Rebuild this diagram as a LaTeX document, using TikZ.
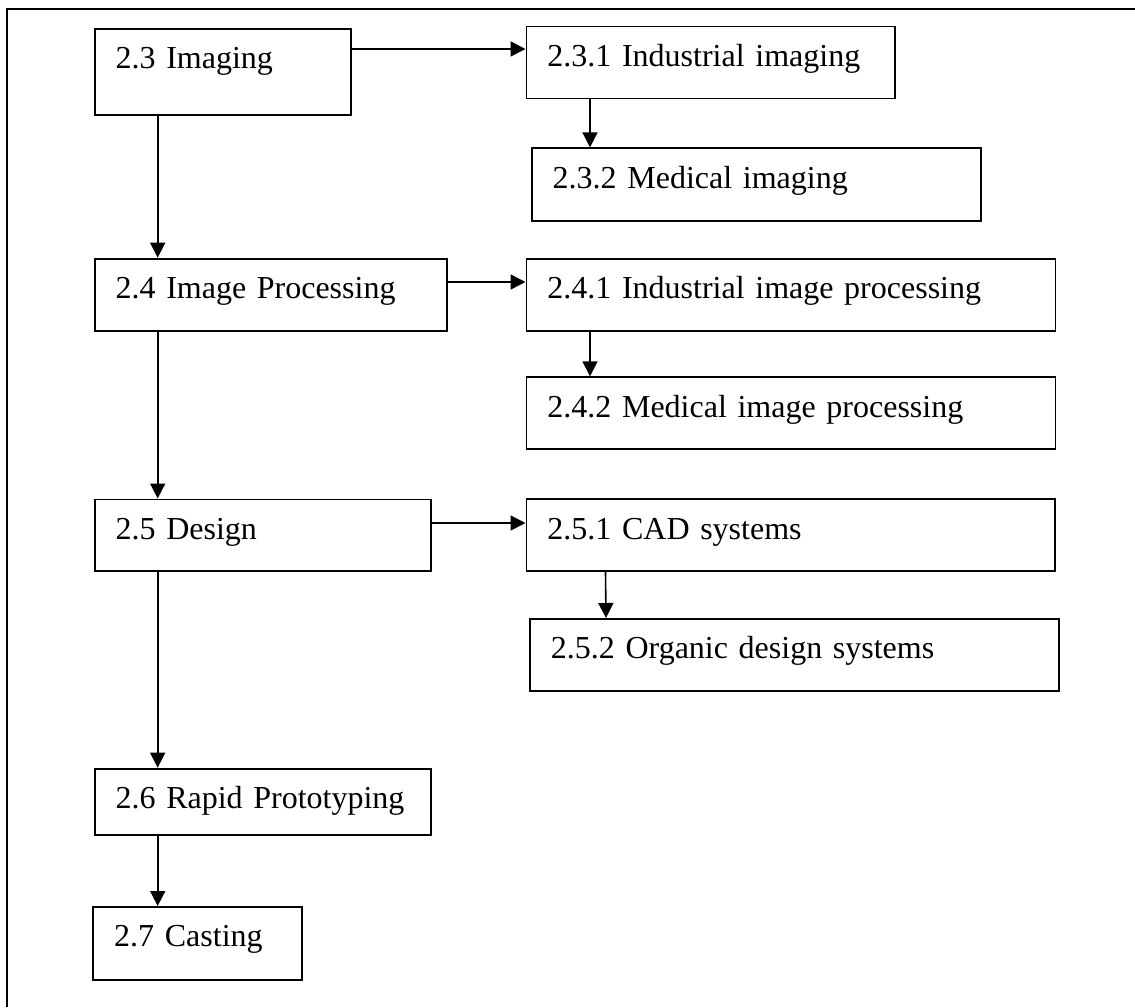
\documentclass[tikz,border=0pt]{standalone}
\usepackage{fontspec}
\setmainfont{Liberation Serif}
\usepackage{tikz}
\usetikzlibrary{arrows.meta, positioning}
\tikzstyle{topic} = [rectangle, draw=black, line width=1.8pt, anchor=north west, align=left, inner xsep=21pt, inner ysep=0pt, text height=40pt, font=\fontsize{32}{38}\selectfont]
\tikzstyle{arrow} = [line width=1.6pt,->,>={Triangle[length=15pt,width=15pt]}]

\begin{document}
\begin{tikzpicture}[x=1pt, y=-1pt]
				\useasboundingbox (0,0) rectangle (1135,1007);
				
				% Frame (top and left only)
				\draw [line width=2pt] (6.5,1007) -- (6.5,9) -- (1135,9);
				
				% Nodes for main chapters
				\node (img) [topic, text width=214pt, text depth=46.3pt] at (93.7,27.7) {2.3 Imaging};
				\node (proc) [topic, text width=310.3pt, text depth=32.6pt] at (93.7,257.7) {2.4 Image Processing};
				\node (des) [topic, text width=294.3pt, text depth=31.5pt] at (93.7,498.5) {2.5 Design};
				\node (rp) [topic, text width=294.3pt, text depth=26.6pt] at (93.7,767.7) {2.6 Rapid Prototyping};
				\node (cast) [topic, text width=166.4pt, text depth=32.7pt] at (92.3,906) {2.7 Casting};
				
				% Nodes for sub sections
				\node (imgind) [topic, text width=326.5pt, text depth=32pt] at (525.5,25.5) {2.3.1 Industrial imaging};
				\node (imgmed) [topic, text width=407pt, text depth=32.6pt] at (530.8,147.4) {2.3.2 Medical imaging};
				\node (procind) [topic, text width=487pt, text depth=32pt] at (525.5,258) {2.4.1 Industrial image processing};
				\node (procmed) [topic, text width=487pt, text depth=32pt] at (525.5,376.3) {2.4.2 Medical image processing};
				\node (cad) [topic, text width=486.5pt, text depth=32pt] at (525.5,498.2) {2.5.1 CAD systems};
				\node (org) [topic, text width=487.3pt, text depth=32.3pt] at (529,618) {2.5.2 Organic design systems};
				
				% Arrows down the main column
				\draw [arrow] ([xshift=64pt]img.south west) -- ([xshift=64pt]proc.north west);
				\draw [arrow] ([xshift=64pt]proc.south west) -- ([xshift=64pt]des.north west);
				\draw [arrow] ([xshift=64pt]des.south west) -- ([xshift=64pt]rp.north west);
				\draw [arrow] ([xshift=64pt]rp.south west) -- ([xshift=65.4pt]cast.north west);
				
				% Arrows into the sub sections
				\draw [arrow] ([yshift=-21.3pt]img.north east) -- ([yshift=-23.5pt]imgind.north west);
				\draw [arrow] ([yshift=-24.3pt]proc.north east) -- ([yshift=-24pt]procind.north west);
				\draw [arrow] ([yshift=-24.5pt]des.north east) -- ([yshift=-24.8pt]cad.north west);
				
				% Arrows between the sub sections
				\draw [arrow] ([xshift=64.5pt]imgind.south west) -- ([xshift=59.2pt]imgmed.north west);
				\draw [arrow] ([xshift=64.5pt]procind.south west) -- ([xshift=64.5pt]procmed.north west);
				\draw [arrow] ([xshift=80pt]cad.south west) -- ([xshift=77pt]org.north west);
				
			\end{tikzpicture}
\end{document}
